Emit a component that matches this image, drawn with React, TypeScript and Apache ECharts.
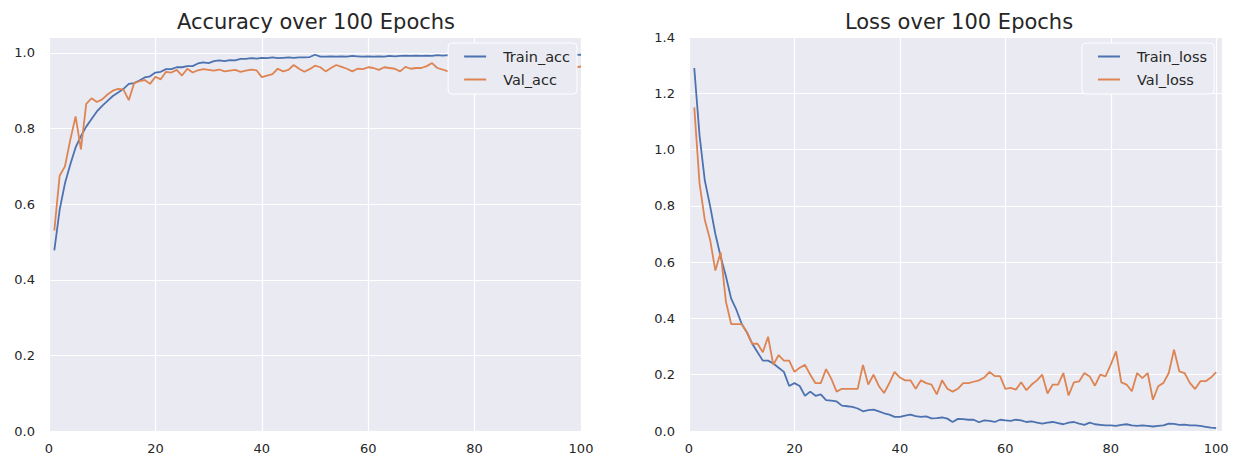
import React, { useEffect, useRef } from "react";
import * as echarts from "echarts";

const epochs: number[] = Array.from({ length: 100 }, (_, i) => i + 1);

const trainAcc: number[] = [
  0.478, 0.585, 0.655, 0.705, 0.75, 0.78, 0.805, 0.825, 0.845, 0.86,
  0.873, 0.886, 0.895, 0.905, 0.918, 0.92, 0.927, 0.935, 0.938, 0.948,
  0.95, 0.957, 0.957, 0.962, 0.962, 0.965, 0.965, 0.972, 0.975, 0.973,
  0.978, 0.98, 0.978, 0.981, 0.98, 0.984, 0.984, 0.986, 0.985, 0.987,
  0.986, 0.988, 0.986, 0.987, 0.988, 0.987, 0.988, 0.988, 0.989, 0.995,
  0.99, 0.99, 0.991, 0.99, 0.991, 0.99, 0.992, 0.991, 0.99, 0.991,
  0.99, 0.991, 0.99, 0.992, 0.991, 0.992, 0.993, 0.992, 0.993, 0.992,
  0.993, 0.992, 0.994, 0.993, 0.994, 0.993, 0.994, 0.993, 0.994, 0.995,
  0.994, 0.993, 0.995, 0.994, 0.995, 0.994, 0.993, 0.995, 0.995, 0.994,
  0.995, 0.995, 0.994, 0.995, 0.996, 0.995, 0.995, 0.996, 0.995, 0.995,
];

const valAcc: number[] = [
  0.53, 0.675, 0.7, 0.77, 0.832, 0.745, 0.865, 0.88, 0.87, 0.877,
  0.89, 0.9, 0.905, 0.903, 0.875, 0.92, 0.925, 0.928, 0.918, 0.937,
  0.93, 0.95, 0.948, 0.955, 0.94, 0.958, 0.948, 0.954, 0.957, 0.955,
  0.953, 0.956, 0.951, 0.953, 0.955, 0.95, 0.953, 0.956, 0.954, 0.936,
  0.94, 0.944, 0.958, 0.951, 0.955, 0.968, 0.958, 0.95, 0.957, 0.966,
  0.962, 0.951, 0.96, 0.968, 0.963, 0.958, 0.951, 0.958, 0.957, 0.962,
  0.96, 0.955, 0.962, 0.96, 0.958, 0.951, 0.963, 0.958, 0.96, 0.96,
  0.965, 0.973, 0.96, 0.956, 0.951, 0.958, 0.962, 0.955, 0.965, 0.96,
  0.958, 0.963, 0.967, 0.96, 0.962, 0.957, 0.965, 0.968, 0.96, 0.963,
  0.958, 0.966, 0.962, 0.96, 0.967, 0.963, 0.958, 0.965, 0.962, 0.964,
];

const trainLoss: number[] = [
  1.29, 1.05, 0.89, 0.8, 0.7, 0.62, 0.55, 0.47, 0.43, 0.38,
  0.35, 0.31, 0.28, 0.25, 0.25, 0.24, 0.225, 0.21, 0.16, 0.17,
  0.16, 0.125, 0.14, 0.125, 0.13, 0.11, 0.108, 0.105, 0.09, 0.088,
  0.086, 0.08, 0.07, 0.074, 0.076, 0.07, 0.063, 0.058, 0.05, 0.05,
  0.055, 0.058, 0.053, 0.05, 0.052, 0.045, 0.046, 0.048, 0.044, 0.032,
  0.043, 0.042, 0.04, 0.04, 0.031, 0.038, 0.036, 0.032, 0.04, 0.038,
  0.036, 0.04, 0.038, 0.032, 0.034, 0.03, 0.026, 0.03, 0.032, 0.028,
  0.024, 0.03, 0.032, 0.026, 0.022, 0.03, 0.024, 0.022, 0.02, 0.02,
  0.018, 0.022, 0.024, 0.02, 0.018, 0.02, 0.018, 0.016, 0.018, 0.02,
  0.026, 0.025, 0.022, 0.023, 0.02, 0.02, 0.018, 0.015, 0.012, 0.01,
];

const valLoss: number[] = [
  1.15, 0.88, 0.75, 0.68, 0.57, 0.635, 0.46, 0.38, 0.38, 0.38,
  0.35, 0.31, 0.31, 0.28, 0.335, 0.235, 0.27, 0.25, 0.25, 0.21,
  0.225, 0.235, 0.2, 0.17, 0.17, 0.22, 0.185, 0.14, 0.15, 0.15,
  0.15, 0.15, 0.235, 0.165, 0.2, 0.16, 0.135, 0.17, 0.21, 0.19,
  0.18, 0.18, 0.15, 0.18, 0.17, 0.165, 0.13, 0.18, 0.15, 0.14,
  0.15, 0.17, 0.17, 0.175, 0.18, 0.19, 0.21, 0.195, 0.195, 0.15,
  0.153, 0.147, 0.173, 0.145, 0.165, 0.18, 0.2, 0.133, 0.165, 0.165,
  0.206, 0.126, 0.173, 0.176, 0.206, 0.194, 0.161, 0.2, 0.194, 0.236,
  0.283, 0.173, 0.165, 0.141, 0.206, 0.188, 0.206, 0.111, 0.159, 0.171,
  0.206, 0.289, 0.212, 0.206, 0.171, 0.149, 0.177, 0.177, 0.19, 0.209,
];

const xTicks: number[] = [0, 20, 40, 60, 80, 100];
const accTicks: number[] = [0, 0.2, 0.4, 0.6, 0.8, 1.0];
const lossTicks: number[] = [0, 0.2, 0.4, 0.6, 0.8, 1.0, 1.2, 1.4];

const BLUE = "#4C72B0";
const ORANGE = "#DD8452";
const FONT = "DejaVu Sans";
const TXT = "#262626";

function pairs(vals: number[]): [number, number][] {
  return epochs.map((e, i) => [e, vals[i]]);
}

function isTick(v: number, ticks: number[]): boolean {
  return ticks.some((t) => Math.abs(t - v) < 1e-6);
}

export default function App() {
  const ref = useRef<HTMLDivElement>(null);

  useEffect(() => {
    if (!ref.current) return;
    const chart = echarts.init(ref.current, null, { renderer: "svg" });

    const xAxisBase = (idx: number, max: number) => ({
      type: "value" as const,
      gridIndex: idx,
      min: 0,
      max,
      interval: 20,
      axisLine: { show: false },
      axisTick: { show: false },
      splitLine: { show: true, lineStyle: { color: "#ffffff", width: 1.2 } },
      axisLabel: {
        color: TXT,
        fontFamily: FONT,
        fontSize: 13,
        margin: 11,
        formatter: (v: number) => (isTick(v, xTicks) ? String(v) : ""),
      },
    });

    const yAxisBase = (idx: number, max: number, ticks: number[]) => ({
      type: "value" as const,
      gridIndex: idx,
      min: 0,
      max,
      interval: 0.2,
      axisLine: { show: false },
      axisTick: { show: false },
      splitLine: { show: true, lineStyle: { color: "#ffffff", width: 1.2 } },
      axisLabel: {
        color: TXT,
        fontFamily: FONT,
        fontSize: 13,
        margin: 14,
        formatter: (v: number) => (isTick(v, ticks) ? v.toFixed(1) : ""),
      },
    });

    const legendBase = {
      orient: "vertical" as const,
      icon: "rect",
      itemWidth: 22,
      itemHeight: 2,
      itemGap: 6,
      padding: [5, 7, 6, 16],
      backgroundColor: "#EAEAF2",
      borderColor: "#ffffff",
      borderWidth: 1,
      borderRadius: 4,
      textStyle: {
        color: TXT,
        fontFamily: FONT,
        fontSize: 14.5,
        lineHeight: 17,
        padding: [0, 0, 0, 12],
      },
    };

    const line = (name: string, vals: number[], color: string, idx: number) => ({
      type: "line" as const,
      name,
      xAxisIndex: idx,
      yAxisIndex: idx,
      data: pairs(vals),
      showSymbol: false,
      symbol: "none",
      color,
      lineStyle: { color, width: 1.8 },
    });

    const titleStyle = { fontFamily: FONT, fontSize: 21, fontWeight: "normal" as const, color: TXT };

    chart.setOption({
      animation: false,
      backgroundColor: "#ffffff",
      title: [
        { text: "Accuracy over 100 Epochs", left: 311, top: 6, textAlign: "center", textStyle: titleStyle },
        { text: "Loss over 100 Epochs", left: 954, top: 6, textAlign: "center", textStyle: titleStyle },
      ],
      grid: [
        { left: 49, top: 37, width: 532, height: 394, show: true, backgroundColor: "#EAEAF2", borderWidth: 0 },
        { left: 689, top: 37, width: 533, height: 394, show: true, backgroundColor: "#EAEAF2", borderWidth: 0 },
      ],
      xAxis: [xAxisBase(0, 100), xAxisBase(1, 101.1)],
      yAxis: [yAxisBase(0, 1.042, accTicks), yAxisBase(1, 1.4, lossTicks)],
      legend: [
        { ...legendBase, right: 667, top: 43, data: ["Train_acc", "Val_acc"] },
        { ...legendBase, right: 30, top: 43, data: ["Train_loss", "Val_loss"] },
      ],
      series: [
        line("Train_acc", trainAcc, BLUE, 0),
        line("Val_acc", valAcc, ORANGE, 0),
        line("Train_loss", trainLoss, BLUE, 1),
        line("Val_loss", valLoss, ORANGE, 1),
      ],
    });

    return () => chart.dispose();
  }, []);

  return (
    <div
      ref={ref}
      style={{ position: "absolute", left: 0, top: 0, width: 1244, height: 463 }}
    />
  );
}
